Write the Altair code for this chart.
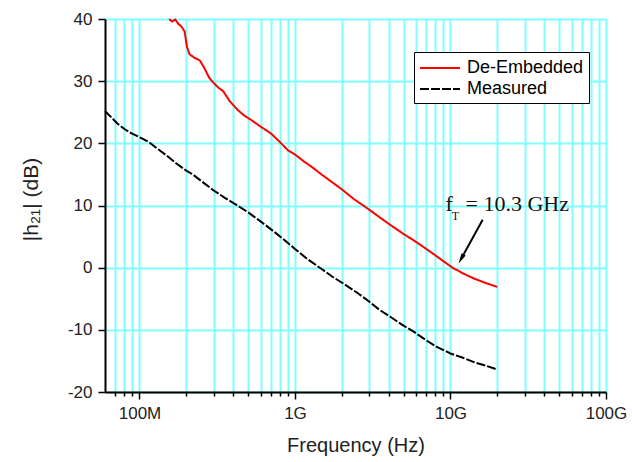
import altair as alt
import pandas as pd

# |h21| of the de-embedded device (Hz, dB)
deemb_freq = [1.55e8, 1.62e8, 1.70e8, 1.78e8, 1.86e8, 1.95e8, 2.02e8, 2.10e8, 2.25e8,
              2.45e8, 2.60e8, 2.80e8, 2.95e8, 3.20e8, 3.45e8, 3.80e8, 4.27e8, 4.70e8,
              5.20e8, 6.00e8, 7.00e8, 8.00e8, 9.00e8, 1.00e9, 1.14e9, 1.30e9, 1.46e9,
              1.70e9, 2.00e9, 2.40e9, 2.90e9, 3.50e9, 4.20e9, 5.00e9, 5.80e9, 7.00e9,
              8.50e9, 1.03e10, 1.20e10, 1.40e10, 1.70e10, 2.00e10]
deemb_db = [40.0, 39.6, 39.9, 39.2, 38.8, 38.0, 35.5, 34.3, 33.8,
            33.3, 32.2, 30.6, 29.9, 29.0, 28.4, 26.8, 25.4, 24.5,
            23.8, 22.7, 21.6, 20.2, 18.9, 18.2, 17.1, 16.1, 15.1,
            13.9, 12.6, 11.0, 9.6, 8.1, 6.7, 5.4, 4.4, 3.0,
            1.5, 0.0, -0.9, -1.7, -2.5, -3.1]

# |h21| as measured (Hz, dB)
meas_freq = [6.0e7, 7.2e7, 8.0e7, 8.9e7, 1.0e8, 1.15e8, 1.28e8, 1.5e8, 1.72e8, 2.0e8,
             2.2e8, 2.6e8, 2.97e8, 3.5e8, 4.2e8, 5.0e8, 5.6e8, 6.5e8, 7.5e8, 8.7e8,
             1.0e9, 1.2e9, 1.5e9, 1.75e9, 2.06e9, 2.5e9, 2.91e9, 3.5e9, 4.1e9, 4.9e9,
             5.8e9, 6.9e9, 8.1e9, 1.0e10, 1.2e10, 1.45e10, 1.7e10, 2.0e10]
meas_db = [25.2, 23.2, 22.3, 21.6, 21.0, 20.2, 19.3, 18.0, 16.8, 15.6,
           15.0, 13.6, 12.5, 11.3, 10.1, 8.9, 8.0, 6.8, 5.6, 4.3,
           3.0, 1.4, -0.3, -1.5, -2.6, -4.0, -5.2, -6.8, -7.9, -9.2,
           -10.3, -11.6, -12.7, -13.8, -14.5, -15.3, -15.8, -16.4]

series_names = ["De-Embedded", "Measured"]
series_colors = ["red", "black"]

# log-decade tick positions (1..9 per decade) and the labelled decades
x_ticks = [m * 10 ** e for e in range(7, 11) for m in range(1, 10) if m * 10 ** e >= 7e7] + [1e11]
x_labels = {1e8: "100M", 1e9: "1G", 1e10: "10G", 1e11: "100G"}
y_ticks = list(range(-20, 45, 5))

# f_T annotation: label anchor and arrow (tail -> head)
ann_f_pos = (9.3e9, 9.1)
ann_sub_pos = (1.02e10, 7.6)
ann_rest_pos = (1.25e10, 9.1)
arrow_tail = (1.61e10, 7.7)
arrow_head = (1.17e10, 1.4)

df = pd.concat([
    pd.DataFrame({"freq": deemb_freq, "db": deemb_db, "series": series_names[0]}),
    pd.DataFrame({"freq": meas_freq, "db": meas_db, "series": series_names[1]}),
], ignore_index=True)

GRID = "#80ffff"
SANS = "Liberation Sans"
SERIF = "Liberation Serif"

x_scale = alt.Scale(type="log", domain=[6e7, 1e11], nice=False)
y_scale = alt.Scale(domain=[-20, 40], nice=False, zero=False)

is_decade = "abs(log(datum.value)/LN10 - round(log(datum.value)/LN10)) < 0.001"
label_expr = " : ".join(
    f"abs(datum.value - {v:.0f}) < 1 ? '{t}'" for v, t in x_labels.items()
) + " : ''"

x_axis = alt.Axis(
    values=x_ticks, grid=True, gridColor=GRID, gridWidth=2,
    tickColor="black", tickWidth=1.5,
    tickSize={"condition": {"test": is_decade, "value": 7}, "value": 4},
    domainColor="black", domainWidth=2,
    labelExpr=label_expr, labelOverlap=False, labelFlush=False,
    labelFont=SANS, labelFontSize=17, labelColor="#222", labelPadding=6,
    title="Frequency (Hz)", titleFont=SANS, titleFontSize=20,
    titleFontWeight="normal", titleColor="#222", titlePadding=14,
)
y_axis = alt.Axis(
    values=y_ticks, grid=True, gridColor=GRID, gridWidth=2,
    tickColor="black", tickWidth=1.5,
    tickSize={"condition": {"test": "datum.value % 10 === 0", "value": 7}, "value": 5},
    domainColor="black", domainWidth=2,
    labelExpr="datum.value % 10 === 0 ? '' + datum.value : ''",
    labelFont=SANS, labelFontSize=17, labelColor="#222", labelPadding=6,
    title="|h₂₁| (dB)", titleFont=SANS, titleFontSize=21,
    titleFontWeight="normal", titleColor="#222", titlePadding=26, titleY=180,
)

# legend key: a 40 px line drawn from a 20 px nominal symbol, so rows stay compact
legend = alt.Legend(
    title=None, orient="none", legendX=309, legendY=33,
    fillColor="white", strokeColor="black", padding=5,
    symbolType="M -1 0 L 3 0", symbolSize=400, symbolStrokeWidth=2,
    labelOffset=26, rowPadding=1,
    labelFont=SANS, labelFontSize=18, labelColor="black",
)

lines = alt.Chart(df).mark_line(strokeWidth=2).encode(
    x=alt.X("freq:Q", scale=x_scale, axis=x_axis),
    y=alt.Y("db:Q", scale=y_scale, axis=y_axis),
    color=alt.Color("series:N", scale=alt.Scale(domain=series_names, range=series_colors),
                    legend=legend),
    strokeDash=alt.StrokeDash("series:N",
                              scale=alt.Scale(domain=series_names, range=[[1, 0], [9, 2]]),
                              legend=legend),
)

ann_df = pd.DataFrame({
    "freq": [ann_f_pos[0], ann_sub_pos[0], ann_rest_pos[0]],
    "db": [ann_f_pos[1], ann_sub_pos[1], ann_rest_pos[1]],
    "label": ["f", "T", "= 10.3 GHz"],
    "size": [22, 12, 22],
})
ann = alt.Chart(ann_df).mark_text(align="left", baseline="alphabetic", font=SERIF,
                                  color="#111").encode(
    x=alt.X("freq:Q", scale=x_scale),
    y=alt.Y("db:Q", scale=y_scale),
    text="label:N",
    size=alt.Size("size:Q", scale=None, legend=None),
)

arrow_df = pd.DataFrame({"freq": [arrow_tail[0]], "db": [arrow_tail[1]],
                         "freq2": [arrow_head[0]], "db2": [arrow_head[1]]})
shaft = alt.Chart(arrow_df).mark_rule(color="black", strokeWidth=2).encode(
    x=alt.X("freq:Q", scale=x_scale), x2="freq2:Q",
    y=alt.Y("db:Q", scale=y_scale), y2="db2:Q",
)
head = alt.Chart(arrow_df).mark_point(
    shape="M -0.45 -1 L 0.45 -1 L 0 1 Z", filled=True, color="black",
    opacity=1, size=110, angle=29,
).encode(
    x=alt.X("freq2:Q", scale=x_scale),
    y=alt.Y("db2:Q", scale=y_scale),
)

chart = alt.layer(lines, shaft, head, ann).properties(
    width=501, height=373,
    padding={"left": 105, "top": 19, "right": 26, "bottom": 70},
    autosize=alt.AutoSizeParams(type="none"),
    background="white",
).configure_view(stroke=None)

chart.save("out.html", embed_options={"renderer": "svg", "actions": False})
